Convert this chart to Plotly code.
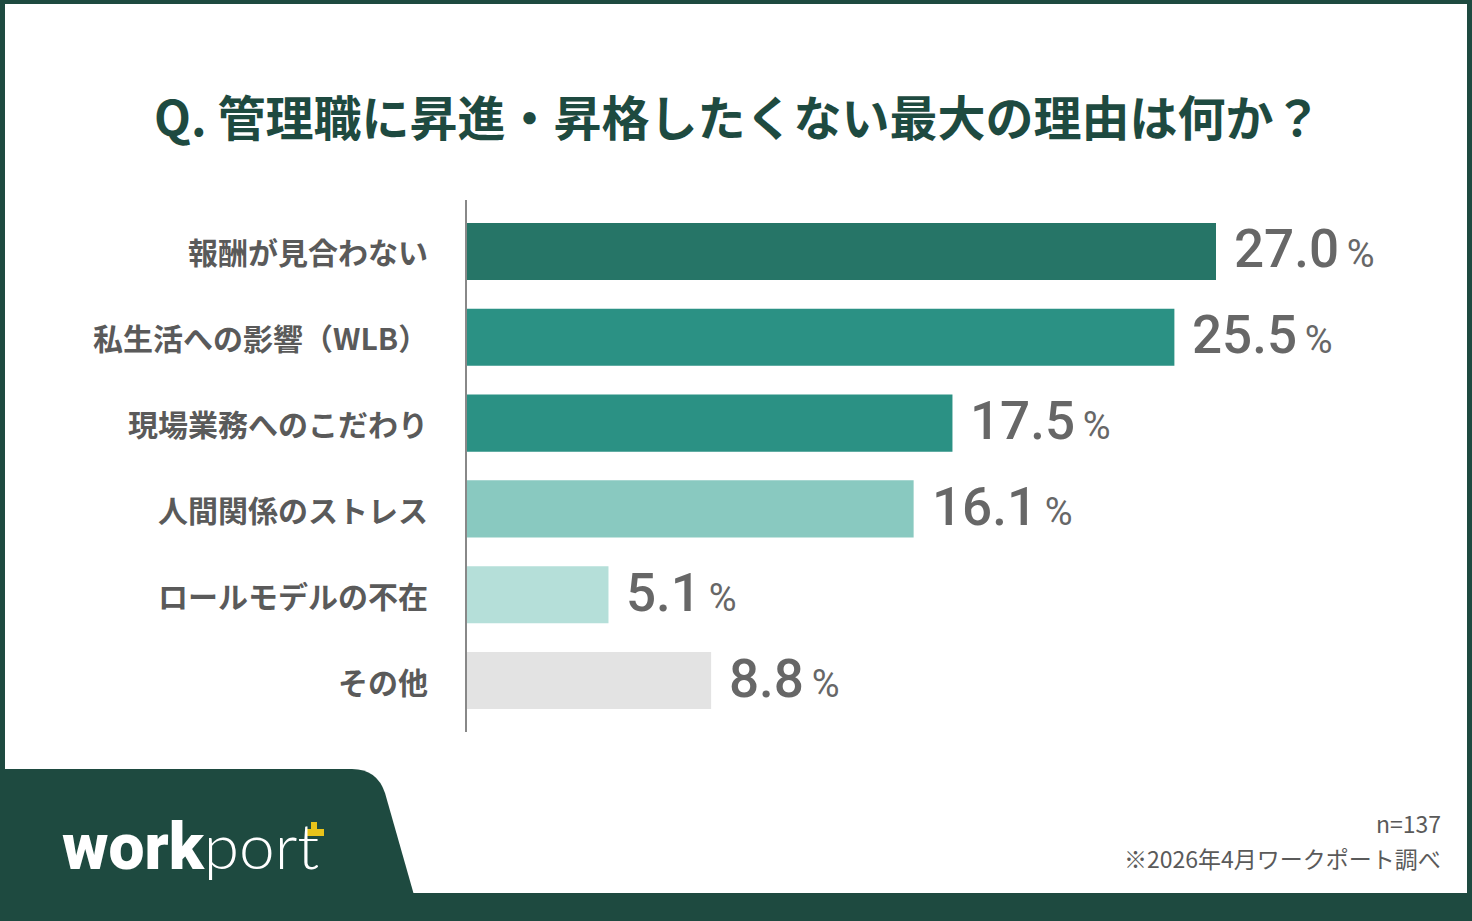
import plotly.graph_objects as go

categories = ["報酬が見合わない", "私生活への影響（WLB）", "現場業務へのこだわり",
              "人間関係のストレス", "ロールモデルの不在", "その他"]
values = [27.0, 25.5, 17.5, 16.1, 5.1, 8.8]
bar_colors = ["#267567", "#2b9184", "#2b9184", "#89c9c0", "#b5dfd9", "#e3e3e3"]

title_text = "Q. 管理職に昇進・昇格したくない最大の理由は何か？"
n_text = "n=137"
source_text = "※2026年4月ワークポート調べ"

W, H = 1472, 921
L, R, T, B = 467, 173, 200, 189
PW, PH = W - L - R, H - T - B
DARK = "#1e4a40"
GRAY = "#5a5a5a"


def px(x):
    return (x - L) / PW


def py(y):
    return (H - B - y) / PH


fig = go.Figure()
fig.add_trace(go.Bar(
    x=values, y=categories, orientation="h",
    marker=dict(color=bar_colors, line=dict(width=0)),
    width=0.665, hoverinfo="skip",
))

annotations = []
for c, v in zip(categories, values):
    annotations.append(dict(
        x=v, y=c, xref="x", yref="y", xanchor="left", yanchor="middle",
        xshift=16, yshift=2, showarrow=False,
        text=f"{v:.1f}<span style='font-size:38px;font-weight:400'>\u2009%</span>",
        font=dict(family="Roboto, sans-serif", size=53, color="#676767", weight=500),
    ))
    annotations.append(dict(
        x=px(430), y=c, xref="paper", yref="y", xanchor="right", yanchor="middle",
        showarrow=False, text=f"<b>{c}</b>",
        font=dict(family="Noto Sans CJK JP", size=30, color=GRAY),
    ))

annotations.append(dict(
    x=px(737), y=py(115), xref="paper", yref="paper", xanchor="center", yanchor="middle",
    showarrow=False, text=f"<b>{title_text}</b>",
    font=dict(family="Noto Sans CJK JP", size=48, color=DARK),
))
annotations.append(dict(
    x=px(1443), y=py(823), xref="paper", yref="paper", xanchor="right", yanchor="middle",
    showarrow=False, text=n_text,
    font=dict(family="Noto Sans CJK JP", size=23, color=GRAY),
))
annotations.append(dict(
    x=px(1443), y=py(858), xref="paper", yref="paper", xanchor="right", yanchor="middle",
    showarrow=False, text=source_text,
    font=dict(family="Noto Sans CJK JP", size=23, color=GRAY),
))
annotations.append(dict(
    x=px(60), y=py(845), xref="paper", yref="paper", xanchor="left", yanchor="middle",
    showarrow=False,
    text=("<span style='font-family:Roboto;font-weight:900'>work</span>"
          "<span style='font-family:Lato;font-weight:300'>port</span>"),
    font=dict(family="Lato", size=64, color="white"),
))

shapes = [
    # frame
    dict(type="rect", xref="paper", yref="paper", x0=px(0), x1=px(W), y0=py(0), y1=py(4),
         fillcolor=DARK, line=dict(width=0)),
    dict(type="rect", xref="paper", yref="paper", x0=px(0), x1=px(5), y0=py(0), y1=py(H),
         fillcolor=DARK, line=dict(width=0)),
    dict(type="rect", xref="paper", yref="paper", x0=px(W - 5), x1=px(W), y0=py(0), y1=py(H),
         fillcolor=DARK, line=dict(width=0)),
    dict(type="rect", xref="paper", yref="paper", x0=px(0), x1=px(W), y0=py(893), y1=py(H),
         fillcolor=DARK, line=dict(width=0)),
    # logo tab
    dict(type="path", xref="paper", yref="paper",
         path=(f"M {px(0)},{py(769)} L {px(352)},{py(769)} "
               f"Q {px(377)},{py(769)} {px(385)},{py(793)} "
               f"L {px(414)},{py(895)} L {px(0)},{py(895)} Z"),
         fillcolor=DARK, line=dict(width=0)),
    # logo yellow accent
    dict(type="rect", xref="paper", yref="paper", x0=px(306), x1=px(324), y0=py(829), y1=py(836),
         fillcolor="#e8c31a", line=dict(width=0)),
    dict(type="rect", xref="paper", yref="paper", x0=px(311), x1=px(317), y0=py(822), y1=py(836),
         fillcolor="#e8c31a", line=dict(width=0)),
]

fig.update_layout(
    width=W, height=H,
    margin=dict(l=L, r=R, t=T, b=B),
    paper_bgcolor="white", plot_bgcolor="white",
    showlegend=False,
    xaxis=dict(range=[0, PW / (749 / 27.0)], visible=False, fixedrange=True),
    yaxis=dict(type="category", categoryorder="array", categoryarray=categories,
               range=[5.6, -0.6], showticklabels=False, showgrid=False, zeroline=False,
               showline=True, linecolor="#888888", linewidth=2, ticks="", fixedrange=True),
    annotations=annotations,
    shapes=shapes,
)

fig.write_html("out.html", config={"displayModeBar": False})
